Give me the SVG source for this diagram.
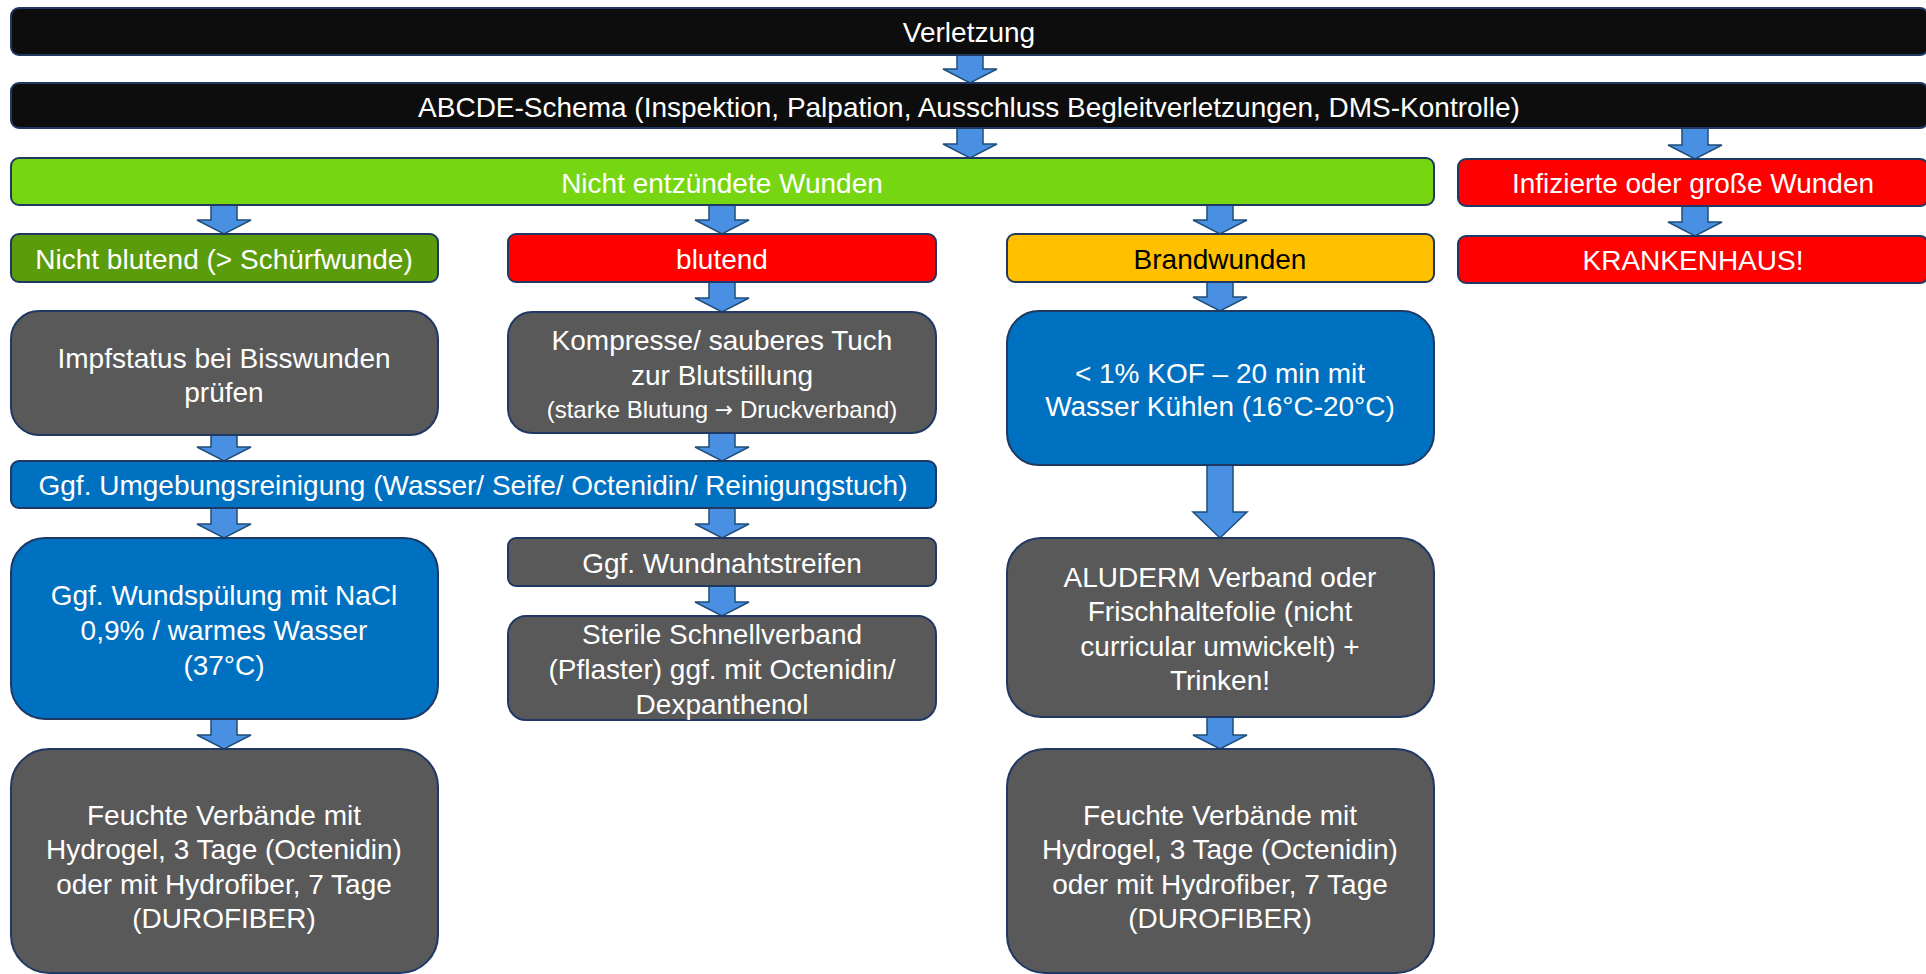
<svg xmlns="http://www.w3.org/2000/svg" width="1926" height="974" viewBox="0 0 1926 974">
<style>
text{font-family:"Liberation Sans",Arial,sans-serif;font-size:28px;fill:#fff;text-anchor:middle;dominant-baseline:central}
.sm{font-size:24px}
.ar{font-family:"DejaVu Sans",sans-serif;font-size:22px}
.dk{fill:#000}
.box{stroke:#1f3864;stroke-width:2}
.blk{fill:#0d0d0d}
.lg{fill:#76d611}
.dg{fill:#5b9c0c}
.red{fill:#ff0000}
.org{fill:#ffc000}
.gry{fill:#595959}
.blu{fill:#0070c0}
#connectors path{fill:#4a90e2;stroke:#1f4e79;stroke-width:1.5;stroke-linejoin:miter}
</style>
<rect width="1926" height="974" fill="#fff"/>
<g id="connectors">
<path d="M957,55H983V69H997L970,83L943,69H957Z"/>
<path d="M957,128H983V144H997L970,158L943,144H957Z"/>
<path d="M1682,128H1708V145H1722L1695,159L1668,145H1682Z"/>
<path d="M211,205H237V220H251L224,234L197,220H211Z"/>
<path d="M709,205H735V220H749L722,234L695,220H709Z"/>
<path d="M1207,205H1233V220H1247L1220,234L1193,220H1207Z"/>
<path d="M1682,206H1708V222H1722L1695,236L1668,222H1682Z"/>
<path d="M709,282H735V298H749L722,312L695,298H709Z"/>
<path d="M1207,282H1233V297H1247L1220,311L1193,297H1207Z"/>
<path d="M211,435H237V447H251L224,461L197,447H211Z"/>
<path d="M709,433H735V447H749L722,461L695,447H709Z"/>
<path d="M211,508H237V524H251L224,538L197,524H211Z"/>
<path d="M709,508H735V524H749L722,538L695,524H709Z"/>
<path d="M1207,465H1233V512H1247L1220,538L1193,512H1207Z"/>
<path d="M709,586H735V602H749L722,616L695,602H709Z"/>
<path d="M211,719H237V735H251L224,749L197,735H211Z"/>
<path d="M1207,717H1233V735H1247L1220,749L1193,735H1207Z"/>
</g>
<g id="n-verletzung"><rect class="box blk" x="11" y="8" width="1917" height="47" rx="8"/><text x="969" y="32">Verletzung</text></g>
<g id="n-abcde"><rect class="box blk" x="11" y="83" width="1917" height="45" rx="8"/><text x="969" y="107">ABCDE-Schema (Inspektion, Palpation, Ausschluss Begleitverletzungen, DMS-Kontrolle)</text></g>
<g id="n-nicht-entzuendet"><rect class="box lg" x="11" y="158" width="1423" height="47" rx="8"/><text x="722" y="183">Nicht entzündete Wunden</text></g>
<g id="n-infiziert"><rect class="box red" x="1458" y="159" width="470" height="47" rx="8"/><text x="1693" y="183">Infizierte oder große Wunden</text></g>
<g id="n-nicht-blutend"><rect class="box dg" x="11" y="234" width="427" height="48" rx="8"/><text x="224" y="259">Nicht blutend (&gt; Schürfwunde)</text></g>
<g id="n-blutend"><rect class="box red" x="508" y="234" width="428" height="48" rx="8"/><text x="722" y="259">blutend</text></g>
<g id="n-brandwunden"><rect class="box org" x="1007" y="234" width="427" height="48" rx="8"/><text class="dk" x="1220" y="259">Brandwunden</text></g>
<g id="n-krankenhaus"><rect class="box red" x="1458" y="236" width="470" height="47" rx="8"/><text x="1693" y="260">KRANKENHAUS!</text></g>
<g id="n-impfstatus"><rect class="box gry" x="11" y="311" width="427" height="124" rx="28"/><text x="224" y="358">Impfstatus bei Bisswunden</text><text x="224" y="392">prüfen</text></g>
<g id="n-kompresse"><rect class="box gry" x="508" y="312" width="428" height="121" rx="24"/><text x="722" y="340">Kompresse/ sauberes Tuch</text><text x="722" y="375">zur Blutstillung</text><text class="sm" x="722" y="409">(starke Blutung <tspan class="ar">→</tspan> Druckverband)</text></g>
<g id="n-kof"><rect class="box blu" x="1007" y="311" width="427" height="154" rx="32"/><text x="1220" y="373">&lt; 1% KOF – 20 min mit</text><text x="1220" y="406">Wasser Kühlen (16°C-20°C)</text></g>
<g id="n-umgebung"><rect class="box blu" x="11" y="461" width="925" height="47" rx="8"/><text x="473" y="485">Ggf. Umgebungsreinigung (Wasser/ Seife/ Octenidin/ Reinigungstuch)</text></g>
<g id="n-wundspuelung"><rect class="box blu" x="11" y="538" width="427" height="181" rx="34"/><text x="224" y="595">Ggf. Wundspülung mit NaCl</text><text x="224" y="630">0,9% / warmes Wasser</text><text x="224" y="665">(37°C)</text></g>
<g id="n-wundnaht"><rect class="box gry" x="508" y="538" width="428" height="48" rx="8"/><text x="722" y="563">Ggf. Wundnahtstreifen</text></g>
<g id="n-sterile"><rect class="box gry" x="508" y="616" width="428" height="104" rx="18"/><text x="722" y="634">Sterile Schnellverband</text><text x="722" y="669">(Pflaster) ggf. mit Octenidin/</text><text x="722" y="704">Dexpanthenol</text></g>
<g id="n-aluderm"><rect class="box gry" x="1007" y="538" width="427" height="179" rx="34"/><text x="1220" y="577">ALUDERM Verband oder</text><text x="1220" y="611">Frischhaltefolie (nicht</text><text x="1220" y="646">curricular umwickelt) +</text><text x="1220" y="680">Trinken!</text></g>
<g id="n-feuchte-links"><rect class="box gry" x="11" y="749" width="427" height="224" rx="38"/><text x="224" y="815">Feuchte Verbände mit</text><text x="224" y="849">Hydrogel, 3 Tage (Octenidin)</text><text x="224" y="884">oder mit Hydrofiber, 7 Tage</text><text x="224" y="918">(DUROFIBER)</text></g>
<g id="n-feuchte-rechts"><rect class="box gry" x="1007" y="749" width="427" height="224" rx="38"/><text x="1220" y="815">Feuchte Verbände mit</text><text x="1220" y="849">Hydrogel, 3 Tage (Octenidin)</text><text x="1220" y="884">oder mit Hydrofiber, 7 Tage</text><text x="1220" y="918">(DUROFIBER)</text></g>
</svg>
